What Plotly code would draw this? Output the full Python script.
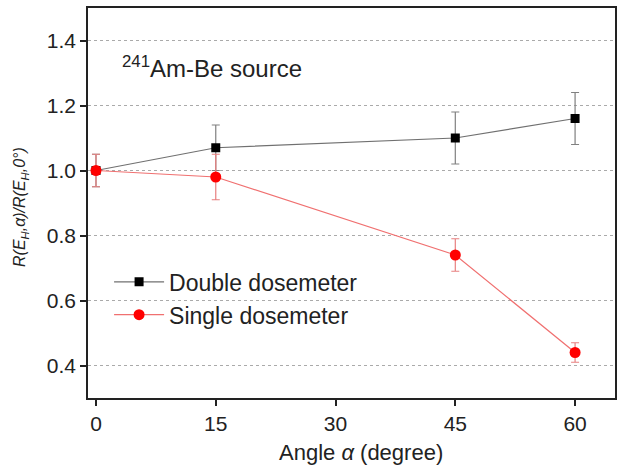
import plotly.graph_objects as go

angles = [0, 15, 45, 60]
double_vals = [1.00, 1.07, 1.10, 1.16]
double_err = [0.05, 0.07, 0.08, 0.08]
single_vals = [1.00, 0.98, 0.74, 0.44]
single_err = [0.05, 0.07, 0.05, 0.03]
x_ticks = [0, 15, 30, 45, 60]
y_ticks = [0.4, 0.6, 0.8, 1.0, 1.2, 1.4]

FONT = "Liberation Sans, Arial, sans-serif"

fig = go.Figure()
fig.add_trace(go.Scatter(
    x=angles, y=double_vals, mode="lines+markers", name="Double dosemeter",
    line=dict(color="#707070", width=1.2),
    marker=dict(symbol="square", size=9, color="black", line=dict(width=0)),
    error_y=dict(type="data", array=double_err, color="#808080", thickness=1.2, width=4),
))
fig.add_trace(go.Scatter(
    x=angles, y=single_vals, mode="lines+markers", name="Single dosemeter",
    line=dict(color="#f07070", width=1.2),
    marker=dict(symbol="circle", size=11, color="#ff0000", line=dict(width=0)),
    error_y=dict(type="data", array=single_err, color="#e88080", thickness=1.2, width=4),
))

fig.update_layout(
    width=621, height=468,
    margin=dict(l=88, r=4, t=8, b=70),
    paper_bgcolor="white", plot_bgcolor="white",
    font=dict(family=FONT, size=21, color="#222"),
    showlegend=True,
    legend=dict(x=0.040, y=0.353, xanchor="left", yanchor="top",
                bgcolor="rgba(0,0,0,0)", font=dict(size=23, color="#222"),
                itemwidth=50, tracegroupgap=0),
    xaxis=dict(range=[-1, 65], tickvals=x_ticks, showgrid=False, zeroline=False,
               showline=True, linecolor="#222", linewidth=1.5, mirror=True,
               ticks="outside", ticklen=6, tickwidth=1.5, tickcolor="#222",
               tickfont=dict(size=21)),
    yaxis=dict(range=[0.3, 1.5], tickvals=y_ticks, ticktext=[f"{v:.1f}" for v in y_ticks],
               showgrid=True, gridcolor="#aaaaaa", griddash="dot", gridwidth=1,
               zeroline=False, showline=True, linecolor="#222", linewidth=1.5, mirror=True,
               ticks="outside", ticklen=6, tickwidth=1.5, tickcolor="#222",
               tickfont=dict(size=21)),
    annotations=[
        dict(text="<sup>241</sup>Am-Be source", xref="paper", yref="paper",
             x=0.06, y=0.85, xanchor="left", yanchor="middle", showarrow=False,
             font=dict(size=24, color="#222")),
        dict(text="Angle <i>α</i> (degree)", xref="paper", yref="paper",
             x=0.518, y=-0.141, xanchor="center", yanchor="middle", showarrow=False,
             font=dict(size=22, color="#222")),
        dict(text="<i>R(E<sub>H</sub>,α)/R(E<sub>H</sub>,0°)</i>", xref="paper", yref="paper",
             x=-0.127, y=0.49, xanchor="center", yanchor="middle", showarrow=False,
             textangle=-90, font=dict(size=16, color="#222")),
    ],
)

fig.write_html("out.html", config={"displayModeBar": False},
               post_script="document.body.style.margin='0';")
